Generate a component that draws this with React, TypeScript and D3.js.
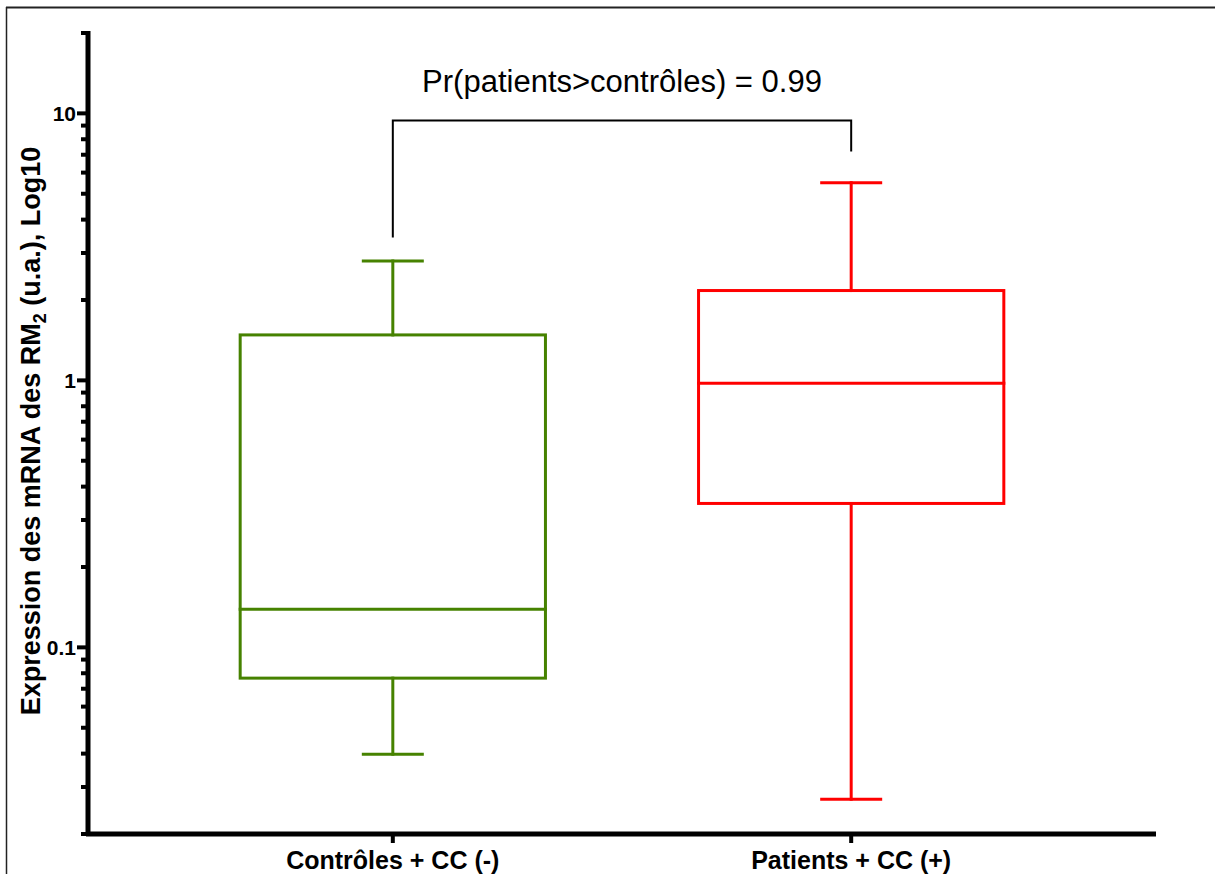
import React from "react";
import * as d3 from "d3";

const categories = ["Contrôles + CC (-)", "Patients + CC (+)"];
const colors = ["#468200", "#ff0000"];
const whiskerLow = [0.0398, 0.027];
const q1 = [0.0767, 0.346];
const median = [0.139, 0.975];
const q3 = [1.48, 2.17];
const whiskerHigh = [2.8, 5.5];
const majorTicks = [0.1, 1, 10];
const bracketEnds = [3.43, 7.2];
const bracketTop = 9.4;
const annotation = "Pr(patients>contrôles) = 0.99";

const W = 1215;
const H = 874;

export default function App() {
  const y = d3.scaleLog().domain([0.02, 20]).range([834, 33]);
  const x = d3.scalePoint<string>().domain(categories).range([88, 1156]).padding(0.665);
  const step = x.step();
  const boxHalf = step * 0.333;
  const capHalf = 29.5;
  const ticks = y.ticks();
  const isMajor = (t: number) => Math.abs(Math.log10(t) - Math.round(Math.log10(t))) < 1e-9;
  const font = "'Liberation Sans', Arial, sans-serif";
  const xL = x(categories[0])!;
  const xR = x(categories[1])!;

  return (
    <svg width={W} height={H} style={{ position: "absolute", left: 0, top: 0, background: "#fff" }}>
      <rect x={0} y={0} width={W} height={H} fill="#fff" />
      {/* frame */}
      <line x1={6.5} y1={7} x2={6.5} y2={H} stroke="#222" strokeWidth={1.5} />
      <line x1={6} y1={7.5} x2={W} y2={7.5} stroke="#222" strokeWidth={2} />

      {/* boxes */}
      {categories.map((c, i) => {
        const cx = x(c)!;
        const col = colors[i];
        return (
          <g key={c} stroke={col} strokeWidth={3} fill="none" strokeLinecap="square">
            <line x1={cx} x2={cx} y1={y(whiskerHigh[i])} y2={y(q3[i])} />
            <line x1={cx} x2={cx} y1={y(q1[i])} y2={y(whiskerLow[i])} />
            <line x1={cx - capHalf} x2={cx + capHalf} y1={y(whiskerHigh[i])} y2={y(whiskerHigh[i])} />
            <line x1={cx - capHalf} x2={cx + capHalf} y1={y(whiskerLow[i])} y2={y(whiskerLow[i])} />
            <rect x={cx - boxHalf} y={y(q3[i])} width={boxHalf * 2} height={y(q1[i]) - y(q3[i])} />
            <line x1={cx - boxHalf} x2={cx + boxHalf} y1={y(median[i])} y2={y(median[i])} />
          </g>
        );
      })}

      {/* bracket */}
      <path
        d={`M${xL},${y(bracketEnds[0])}V${y(bracketTop)}H${xR}V${y(bracketEnds[1])}`}
        fill="none"
        stroke="#000"
        strokeWidth={2}
      />
      <text x={(xL + xR) / 2} y={92} textAnchor="middle" fontFamily={font} fontSize={31} fill="#000">
        {annotation}
      </text>

      {/* y axis */}
      <line x1={88} x2={88} y1={31} y2={836} stroke="#000" strokeWidth={5} />
      {ticks.map((t) => (
        <line
          key={t}
          x1={isMajor(t) ? 77 : 81}
          x2={88}
          y1={y(t)}
          y2={y(t)}
          stroke="#000"
          strokeWidth={4}
        />
      ))}
      {majorTicks.map((t) => (
        <text
          key={t}
          x={76}
          y={y(t)}
          dy="0.36em"
          textAnchor="end"
          fontFamily={font}
          fontWeight="bold"
          fontSize={21}
        >
          {d3.format("~g")(t)}
        </text>
      ))}

      {/* x axis */}
      <line x1={86} x2={1156} y1={834} y2={834} stroke="#000" strokeWidth={5} />
      {categories.map((c) => (
        <g key={c}>
          <line x1={x(c)!} x2={x(c)!} y1={834} y2={843} stroke="#000" strokeWidth={4} />
          <text x={x(c)!} y={869} textAnchor="middle" fontFamily={font} fontWeight="bold" fontSize={25}>
            {c}
          </text>
        </g>
      ))}

      {/* y label */}
      <text
        transform="translate(40,431) rotate(-90)"
        textAnchor="middle"
        fontFamily={font}
        fontWeight="bold"
        fontSize={27}
      >
        Expression des mRNA des RM
        <tspan fontSize={18} dy={6}>2</tspan>
        <tspan dy={-6}> (u.a.), Log10</tspan>
      </text>
    </svg>
  );
}
